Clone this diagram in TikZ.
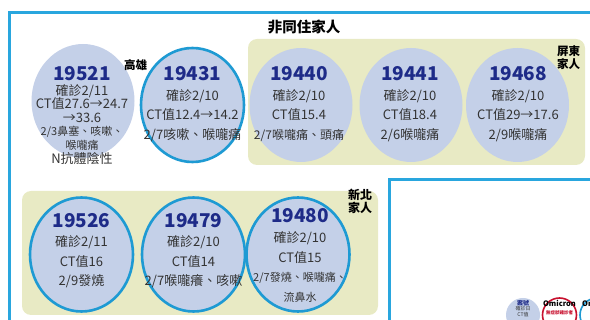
\documentclass[tikz,border=0pt]{standalone}
\usepackage{fontspec}
\setmainfont{Noto Sans CJK TC}
\usetikzlibrary{shapes.geometric}
\definecolor{frameblue}{HTML}{29A6DE}
\definecolor{ringblue}{HTML}{1E9AD3}
\definecolor{casefill}{HTML}{C4D0E8}
\definecolor{famyellow}{HTML}{E8EAC4}
\definecolor{numblue}{HTML}{1E2B88}
\definecolor{infogray}{HTML}{333333}
\definecolor{omired}{HTML}{C8102E}
\newcommand{\casenum}[1]{{\fontsize{19}{19}\selectfont\bfseries\color{numblue}#1}}
\newcommand{\smalltxt}{\fontsize{11}{15.5}\selectfont}

\begin{document}
\begin{tikzpicture}[x=1pt,y=-1pt,
	frame/.style={draw=frameblue,line width=3pt},
	family/.style={fill=famyellow,rounded corners=9pt},
	case/.style={ellipse,fill=casefill,inner sep=0pt,minimum width=103pt,minimum height=114pt},
	ringed/.style={case,draw=ringblue,line width=2.6pt},
	info/.style={anchor=north,align=center,inner sep=0pt,text=infogray,font=\fontsize{13}{19.5}\selectfont},
	place/.style={align=center,inner sep=0pt,font=\fontsize{11.5}{13}\selectfont\bfseries}]
	\useasboundingbox (0,0) rectangle (590,320);
	\clip (0,0) rectangle (590,320);

	% frames and family boxes
	\draw[frame] (9,12.5) rectangle (640,400);
	\draw[frame] (389,180) rectangle (640,400);
	\fill[family] (248,39) rectangle (585,165);
	\fill[family] (22,191) rectangle (378,315);
	\node[font=\fontsize{14.5}{15}\selectfont\bfseries] (title) at (304,27) {非同住家人};

	% top row
	\node[case] (c19521) at (83,101) {};
	\node[info,font=\fontsize{13}{13.5}\selectfont] (t19521) at (82,66.5)
		{\casenum{19521}\\[1pt]確診2/11\\CT值27.6→24.7\\→33.6\\{\fontsize{11}{13.5}\selectfont 2/3鼻塞、咳嗽、}\\{\fontsize{11}{13.5}\selectfont 喉嚨痛}\\[1pt]N抗體陰性};
	\node[ringed] (c19431) at (192.5,105) {};
	\node[info] (t19431) at (192.5,66.5) {\casenum{19431}\\確診2/10\\CT值12.4→14.2\\2/7咳嗽、喉嚨痛};
	\node[case] (c19440) at (301,105) {};
	\node[info] (t19440) at (299,66.5) {\casenum{19440}\\確診2/10\\CT值15.4\\{\fontsize{12}{19.5}\selectfont 2/7喉嚨痛、頭痛}};
	\node[case] (c19441) at (411,105) {};
	\node[info] (t19441) at (410,66.5) {\casenum{19441}\\確診2/10\\CT值18.4\\2/6喉嚨痛};
	\node[case] (c19468) at (517.5,105) {};
	\node[info] (t19468) at (518,66.5) {\casenum{19468}\\確診2/10\\CT值29→17.6\\2/9喉嚨痛};

	% bottom row
	\node[ringed] (c19526) at (81.5,254.5) {};
	\node[info] (t19526) at (81.5,213) {\casenum{19526}\\確診2/11\\CT值16\\2/9發燒};
	\node[ringed] (c19479) at (193.5,254.5) {};
	\node[info] (t19479) at (193.5,213) {\casenum{19479}\\確診2/10\\CT值14\\2/7喉嚨癢、咳嗽};
	\node[ringed] (c19480) at (298,254.5) {};
	\node[info] (t19480) at (300,208) {\casenum{19480}\\[1pt]確診2/10\\CT值15\\{\smalltxt 2/7發燒、喉嚨痛、}\\{\smalltxt 流鼻水}};

	% place labels
	\node[place] (kh) at (135.5,65) {高雄};
	\node[place] (pt) at (568.5,57.5) {屏東\\家人};
	\node[place,font=\fontsize{12}{13}\selectfont\bfseries] (ntp) at (360,201) {新北\\家人};

	% legend (cut off)
	\node[circle,fill=casefill,minimum size=34pt,inner sep=0pt] (lgcase) at (523,315) {};
	\node[anchor=north,align=center,inner sep=0pt,font=\fontsize{5}{5.5}\selectfont,text=infogray] (lgcaset) at (523,300)
		{{\bfseries\fontsize{6}{6}\selectfont\color{numblue}案號}\\確診日\\CT值};
	\node[circle,fill=white,draw=omired,line width=1.6pt,minimum size=34pt,inner sep=0pt] (lgomi) at (559.5,315) {};
	\node[anchor=north,align=center,inner sep=0pt,font=\fontsize{7.5}{8}\selectfont\bfseries] (lgomit) at (559.5,300)
		{Omicron\\{\fontsize{4.5}{5}\selectfont\color{omired}無症狀確診者}};
	\node[circle,fill=white,draw=ringblue,line width=1.6pt,minimum size=34pt,inner sep=0pt] (lgnext) at (597,315) {};
	\node[anchor=north west,inner sep=0pt,font=\fontsize{7.5}{8}\selectfont\bfseries] (lgnextt) at (582,300) {Omicron};
\end{tikzpicture}
\end{document}
